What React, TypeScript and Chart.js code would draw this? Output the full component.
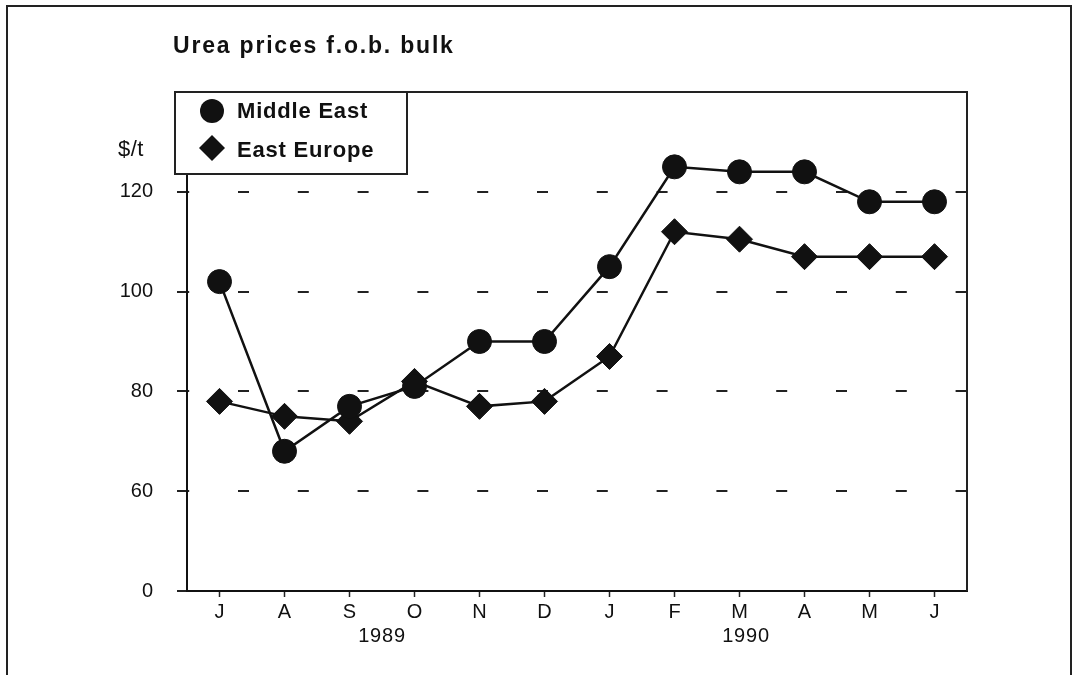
import React, { useEffect, useRef } from 'react';
import { Chart, registerables } from 'chart.js';

Chart.register(...registerables);

// ---- data ----
const TITLE = 'Urea prices f.o.b. bulk';
const UNIT = '$/t';
const months = ['J', 'A', 'S', 'O', 'N', 'D', 'J', 'F', 'M', 'A', 'M', 'J'];
const years = ['1989', '1990'];
const yearAnchors = [2.5, 8.1]; // category index the year label is centred on
const seriesNames = ['Middle East', 'East Europe'];
const middleEast = [102, 68, 77, 81, 90, 90, 105, 125, 124, 124, 118, 118];
const eastEurope = [78, 75, 74, 82, 77, 78, 87, 112, 110.5, 107, 107, 107];
// broken axis: the bottom of the scale is labelled "0"
const yTickValues = [40, 60, 80, 100, 120];
const yTickLabels = ['0', '60', '80', '100', '120'];

const INK = '#111';
const FONT = '"Liberation Sans", Arial, Helvetica, sans-serif';

const decor = {
  id: 'decor',
  beforeDraw(chart: any) {
    const { ctx, width, height } = chart;
    ctx.save();
    ctx.fillStyle = '#fff';
    ctx.fillRect(0, 0, width, height);
    ctx.restore();
  },
  afterDraw(chart: any) {
    const { ctx, chartArea: a } = chart;
    ctx.save();
    ctx.strokeStyle = '#222';
    ctx.lineWidth = 2;
    // outer frame (bottom edge runs off the page)
    ctx.strokeRect(7, 6, 1064, 720);
    // plot frame top + right
    ctx.beginPath();
    ctx.moveTo(a.left, a.top);
    ctx.lineTo(a.right, a.top);
    ctx.lineTo(a.right, a.bottom);
    ctx.stroke();

    ctx.fillStyle = INK;
    // title
    ctx.font = `bold 23px ${FONT}`;
    (ctx as any).letterSpacing = '1.8px';
    ctx.textAlign = 'left';
    ctx.textBaseline = 'alphabetic';
    ctx.fillText(TITLE, 173, 53);

    // unit
    ctx.font = `22px ${FONT}`;
    (ctx as any).letterSpacing = '0.5px';
    ctx.fillText(UNIT, 118, 156);

    // year labels
    ctx.font = `20px ${FONT}`;
    (ctx as any).letterSpacing = '0.8px';
    ctx.textAlign = 'center';
    ctx.textBaseline = 'middle';
    const xs = chart.scales.x;
    years.forEach((t, i) => {
      ctx.fillText(t, xs.getPixelForValue(yearAnchors[i]), 636);
    });

    // legend box
    const bx = 175, by = 92, bw = 232, bh = 82;
    ctx.fillStyle = '#fff';
    ctx.fillRect(bx, by, bw, bh);
    ctx.strokeStyle = '#222';
    ctx.lineWidth = 2;
    ctx.strokeRect(bx, by, bw, bh);
    ctx.fillStyle = INK;
    // circle marker
    ctx.beginPath();
    ctx.arc(212, 111, 12, 0, Math.PI * 2);
    ctx.fill();
    // diamond marker
    ctx.beginPath();
    ctx.moveTo(199, 148);
    ctx.lineTo(212, 135);
    ctx.lineTo(225, 148);
    ctx.lineTo(212, 161);
    ctx.closePath();
    ctx.fill();
    ctx.font = `bold 22px ${FONT}`;
    (ctx as any).letterSpacing = '0.8px';
    ctx.textAlign = 'left';
    ctx.textBaseline = 'alphabetic';
    ctx.fillText(seriesNames[0], 237, 118);
    ctx.fillText(seriesNames[1], 237, 157);
    ctx.restore();
  },
};

export default function App() {
  const ref = useRef<HTMLCanvasElement>(null);

  useEffect(() => {
    if (!ref.current) return;
    Chart.defaults.font.family = FONT;
    const chart = new Chart(ref.current, {
      type: 'line',
      data: {
        labels: months,
        datasets: [
          {
            label: seriesNames[0],
            data: middleEast,
            borderColor: INK,
            backgroundColor: INK,
            borderWidth: 2.5,
            pointStyle: 'circle',
            pointRadius: 12,
            pointBackgroundColor: INK,
            pointBorderColor: INK,
            pointBorderWidth: 1,
            tension: 0,
          },
          {
            label: seriesNames[1],
            data: eastEurope,
            borderColor: INK,
            backgroundColor: INK,
            borderWidth: 2.5,
            pointStyle: 'rectRot',
            pointRadius: 13,
            pointBackgroundColor: INK,
            pointBorderColor: INK,
            pointBorderWidth: 1,
            tension: 0,
          },
        ],
      },
      options: {
        responsive: false,
        animation: false,
        devicePixelRatio: 1,
        layout: { padding: { top: 92, right: 107, left: 0, bottom: 0 } },
        plugins: {
          legend: { display: false },
          title: { display: false },
          tooltip: { enabled: false },
        },
        scales: {
          x: {
            type: 'category',
            offset: true,
            grid: {
              offset: false,
              drawOnChartArea: false,
              drawTicks: true,
              tickLength: 6,
              tickColor: '#222',
              tickWidth: 1.5,
            },
            border: { display: true, color: INK, width: 2 },
            ticks: {
              color: INK,
              font: { size: 20 },
              padding: 3,
              maxRotation: 0,
              autoSkip: false,
            },
            afterFit: (s: any) => {
              s.height = 84;
            },
          },
          y: {
            type: 'linear',
            min: 40,
            max: 140,
            afterBuildTicks: (s: any) => {
              s.ticks = yTickValues.map((v) => ({ value: v }));
            },
            grid: {
              color: (c: any) => (c.tick && c.tick.value === 40 ? 'rgba(0,0,0,0)' : '#222'),
              lineWidth: 2,
              drawTicks: true,
              tickLength: 10,
              tickColor: '#222',
              tickWidth: 2,
              tickBorderDash: [],
            },
            border: { display: true, color: INK, width: 2, dash: [11, 48.8], dashOffset: 9.8 },
            ticks: {
              color: INK,
              font: { size: 20 },
              padding: 24,
              callback: (v: any) => {
                const i = yTickValues.indexOf(Number(v));
                return i >= 0 ? yTickLabels[i] : '';
              },
            },
            afterFit: (s: any) => {
              s.width = 187;
            },
          },
        },
      },
      plugins: [decor],
    });
    return () => chart.destroy();
  }, []);

  return (
    <div style={{ position: 'fixed', left: 0, top: 0, width: 1074, height: 675, background: '#fff' }}>
      <canvas ref={ref} width={1074} height={675} style={{ display: 'block', width: 1074, height: 675 }} />
    </div>
  );
}
